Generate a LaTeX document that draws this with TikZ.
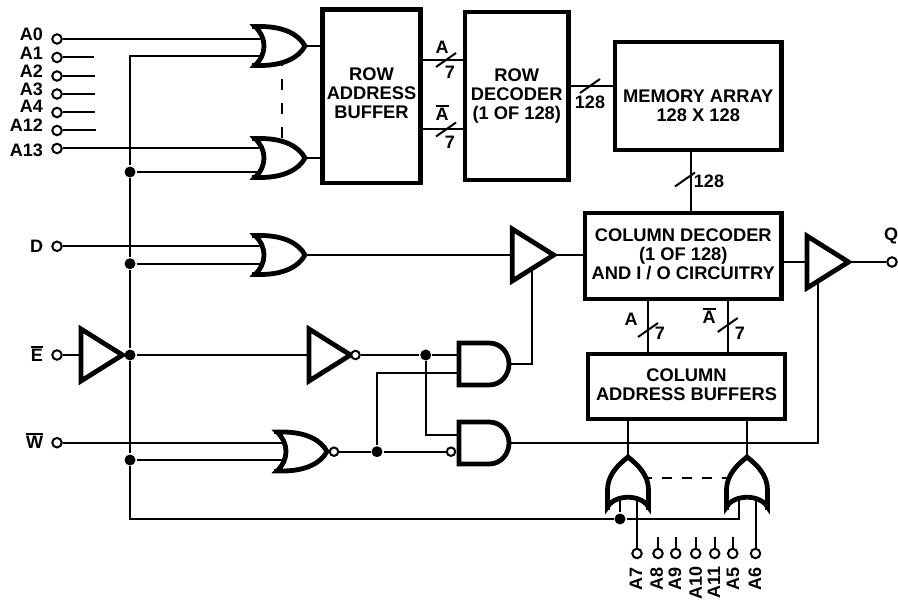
\documentclass[tikz,border=0pt]{standalone}
\usepackage{fontspec}
\usetikzlibrary{backgrounds}
\setmainfont{Liberation Sans}
\newcommand{\barred}[1]{\vbox{\hrule height 1.3pt \kern 1.6pt \hbox{#1}}}
\tikzset{
  blockbox/.style={draw, line width=4.5pt, inner sep=0pt},
  blocktext/.style={align=center, inner sep=0pt, font=\fontsize{18.3}{19}\selectfont\bfseries},
  pinlabel/.style={inner sep=0pt, font=\fontsize{18}{19}\selectfont\bfseries},
  term/.style={circle, draw, fill=white, line width=2pt, minimum size=9.5pt, inner sep=0pt},
  bubble/.style={circle, draw, fill=white, line width=2pt, minimum size=8.5pt, inner sep=0pt},
  joint/.style={circle, fill=black, minimum size=11pt, inner sep=0pt},
  gatelines/.style={draw, fill=white, line width=4.8pt},
  orgate/.pic={
    \path[gatelines] (3,-19.5) -- (8,-19.5) .. controls (33,-19.5) and (47,-11) .. (53,0)
      .. controls (47,11) and (33,19.5) .. (8,19.5) -- (3,19.5)
      .. controls (15,8) and (15,-8) .. (3,-19.5) -- cycle;
    \draw[line width=4.8pt] (0,-19.5) -- (4,-19.5) (0,19.5) -- (4,19.5);
    \coordinate (-back) at (10,0);
    \coordinate (-out) at (53,0);
    \coordinate (-hi) at (30,-17);
    \coordinate (-lo) at (30,17);
  },
  orgateup/.pic={
    \path[gatelines] (3,-20.5) -- (20,-20.5) .. controls (35,-20.5) and (45,-10) .. (53,0)
      .. controls (45,10) and (35,20.5) .. (20,20.5) -- (3,20.5)
      .. controls (16,13) and (16,-13) .. (3,-20.5) -- cycle;
    \draw[line width=4.8pt] (0,-20.5) -- (4,-20.5) (0,20.5) -- (4,20.5);
    \coordinate (-back) at (10,0);
    \coordinate (-out) at (53,0);
    \coordinate (-hi) at (32,-17);
    \coordinate (-lo) at (32,17);
  },
  andgate/.pic={
    \path[gatelines] (0,-21) -- (30,-21) .. controls (42,-21) and (50,-11) .. (50,0)
      .. controls (50,11) and (42,21) .. (30,21) -- (0,21) -- cycle;
    \coordinate (-back) at (0,0);
    \coordinate (-out) at (50,0);
  },
  tribuf/.pic={
    \path[gatelines] (0,-26) -- (41.5,0) -- (0,26) -- cycle;
    \coordinate (-in) at (0,0);
    \coordinate (-mid) at (20,0);
    \coordinate (-out) at (41.5,0);
  },
  buswidth/.pic={
    \draw (-10,7) -- (10,-7);
  }
}
\begin{document}
\begin{tikzpicture}[x=1pt, y=-1pt, line width=2pt]
  \useasboundingbox (0,0) rectangle (898,601);

  % Address pins on the left
  \node[term] (a0) at (57,39) {};
  \node[term] (a1) at (57,57.5) {};
  \node[term] (a2) at (57,76) {};
  \node[term] (a3) at (57,94) {};
  \node[term] (a4) at (57,112.5) {};
  \node[term] (a12) at (57,130.5) {};
  \node[term] (a13) at (57,148.5) {};
  \node[term] (d) at (57,246.3) {};
  \node[term] (e) at (57,355) {};
  \node[term] (w) at (57,442.7) {};
  \node[pinlabel, anchor=east] (a0label) at (44,34) {A0};
  \node[pinlabel, anchor=east] (a1label) at (44,53) {A1};
  \node[pinlabel, anchor=east] (a2label) at (44,71) {A2};
  \node[pinlabel, anchor=east] (a3label) at (44,89) {A3};
  \node[pinlabel, anchor=east] (a4label) at (44,106) {A4};
  \node[pinlabel, anchor=east] (a12label) at (44,125) {A12};
  \node[pinlabel, anchor=east] (a13label) at (44,150) {A13};
  \node[pinlabel, anchor=east] (dlabel) at (44,246) {D};
  \node[pinlabel, anchor=east] (elabel) at (44,354) {\barred{E}};
  \node[pinlabel, anchor=east] (wlabel) at (44,441) {\barred{W}};
  \coordinate (e1) at (94,57.5);
  \coordinate (e2) at (95,76);
  \coordinate (e3) at (95,94);
  \coordinate (e4) at (95,112.5);
  \coordinate (e12) at (96,130.5);
  \draw (a1) -- (e1);
  \draw (a2) -- (e2);
  \draw (a3) -- (e3);
  \draw (a4) -- (e4);
  \draw (a12) -- (e12);

  % Address pins at the bottom
  \node[term] (a7) at (637,553.5) {};
  \node[term] (a8) at (658,553.5) {};
  \node[term] (a9) at (675.7,553.5) {};
  \node[term] (a10) at (695.7,553.5) {};
  \node[term] (a11) at (714.7,553.5) {};
  \node[term] (a5) at (732.7,553.5) {};
  \node[term] (a6) at (755.5,553.5) {};
  \node[pinlabel, rotate=90, anchor=east] (a7label) at (636,566) {A7};
  \node[pinlabel, rotate=90, anchor=east] (a8label) at (656.7,566) {A8};
  \node[pinlabel, rotate=90, anchor=east] (a9label) at (675,566) {A9};
  \node[pinlabel, rotate=90, anchor=east] (a10label) at (695.7,565) {A10};
  \node[pinlabel, rotate=90, anchor=east] (a11label) at (714,565) {A11};
  \node[pinlabel, rotate=90, anchor=east] (a5label) at (733,566) {A5};
  \node[pinlabel, rotate=90, anchor=east] (a6label) at (755,566) {A6};
  \coordinate (e8) at (658,536.7);
  \coordinate (e9) at (675.7,536.7);
  \coordinate (e10) at (695.7,536.7);
  \coordinate (e11) at (714.7,536.7);
  \coordinate (e5) at (732.7,536.7);
  \draw (a8) -- (e8);
  \draw (a9) -- (e9);
  \draw (a10) -- (e10);
  \draw (a11) -- (e11);
  \draw (a5) -- (e5);

  % Blocks
  \node[blockbox, minimum width=98pt, minimum height=173.5pt] (rowbuf) at (371.5,96.25) {};
  \node[blockbox, minimum width=103.5pt, minimum height=168pt] (rowdec) at (516.75,96) {};
  \node[blockbox, minimum width=166.5pt, minimum height=108pt] (mem) at (698.25,96) {};
  \node[blockbox, minimum width=196.5pt, minimum height=86pt] (coldec) at (683.25,256) {};
  \node[blockbox, minimum width=197pt, minimum height=65pt] (colbuf) at (686.5,386.5) {};
  \node[blocktext, yshift=3pt] (rowbuftext) at (rowbuf) {ROW\\ADDRESS\\BUFFER};
  \node[blocktext] (rowdectext) at (rowdec) {ROW\\DECODER\\(1 OF 128)};
  \node[blocktext, yshift=-10pt] (memtext) at (mem) {MEMORY ARRAY\\128 X 128};
  \node[blocktext, yshift=2pt] (coldectext) at (coldec) {COLUMN DECODER\\(1 OF 128)\\AND I / O CIRCUITRY};
  \node[blocktext, yshift=1.5pt] (colbuftext) at (colbuf) {COLUMN\\ADDRESS BUFFERS};

  % Bus lines with their widths
  \coordinate (s1) at (446,60);
  \coordinate (s2) at (446,129.5);
  \coordinate (s3) at (590,86);
  \coordinate (s4) at (690.5,179.5);
  \coordinate (s5) at (648,330);
  \coordinate (s6) at (727.7,325);
  \draw (rowbuf.east |- s1) -- (rowdec.west |- s1);
  \draw (rowbuf.east |- s2) -- (rowdec.west |- s2);
  \draw (rowdec.east |- s3) -- (mem.west |- s3);
  \draw (mem.south -| s4) -- (coldec.north -| s4);
  \draw (coldec.south -| s5) -- (colbuf.north -| s5);
  \draw (coldec.south -| s6) -- (colbuf.north -| s6);
  \pic at (s1) {buswidth};
  \pic at (s2) {buswidth};
  \pic at (s3) {buswidth};
  \pic at (685,179.5) {buswidth};
  \pic at (s5) {buswidth};
  \pic at (s6) {buswidth};
  \node[pinlabel] (abit1) at (442,47) {A};
  \node[pinlabel] (seven1) at (450,72) {7};
  \node[pinlabel] (abit2) at (442,113) {\barred{A}};
  \node[pinlabel] (seven2) at (450,142) {7};
  \node[pinlabel] (bits1) at (590,102) {128};
  \node[pinlabel] (bits2) at (709,181) {128};
  \node[pinlabel] (abit3) at (631,319) {A};
  \node[pinlabel] (seven3) at (660,333) {7};
  \node[pinlabel] (abit4) at (709,316) {\barred{A}};
  \node[pinlabel] (seven4) at (740,333) {7};

  % Junctions and bends
  \coordinate (top) at (130,56.5);
  \node[joint] (j1) at (130,172) {};
  \node[joint] (j2) at (130,263.7) {};
  \node[joint] (j3) at (130,355) {};
  \node[joint] (j4) at (130,460) {};
  \coordinate (low) at (130,519);
  \node[joint] (j5) at (620,519) {};
  \coordinate (lowend) at (738.7,519);
  \node[joint] (j6) at (425.7,355) {};
  \node[joint] (j7) at (377,451.7) {};
  \coordinate (wa1) at (377,373);
  \coordinate (wa2) at (425.7,435);
  \coordinate (en3) at (818,443);

  % Gates
  \pic (or1) at (252,46) {orgate};
  \pic (or2) at (252,158) {orgate};
  \pic (or3) at (252,255) {orgate};
  \pic (or4) at (274,451.5) {orgate};
  \pic[rotate=90] (or5) at (628,510) {orgateup};
  \pic[rotate=90] (or6) at (747,510) {orgateup};
  \pic (and1) at (459,364) {andgate};
  \pic (and2) at (459,443) {andgate};
  \pic (buf1) at (512.25,255) {tribuf};
  \pic (buf2) at (81,355) {tribuf};
  \pic (buf3) at (309,355) {tribuf};
  \pic (buf4) at (807,262) {tribuf};
  \node[bubble] (b1) at (355.5,355) {};
  \node[bubble] (b2) at (334,451.7) {};
  \node[bubble] (b3) at (451,451.7) {};
  \node[term] (q) at (892,262) {};
  \node[pinlabel] (qlabel) at (891,236) {Q};

  % Wires, kept under the gates
  \begin{scope}[on background layer={line width=2pt}]
    \draw (a0) -- (a0 -| or1-back);
    \draw (a13) -- (a13 -| or2-back);
    \draw (d) -- (d -| or3-back);
    \draw (w) -- (w -| or4-back);
    \draw (or1-back |- top) -- (top) -- (j1) -- (j2) -- (j3) -- (j4) -- (low) -- (j5) -- (lowend) -- (lowend |- or6-back);
    \draw (j1) -- (j1 -| or2-back);
    \draw (j2) -- (j2 -| or3-back);
    \draw (j4) -- (j4 -| or4-back);
    \draw (j5) -- (j5 |- or5-back);
    \draw (a7) -- (a7 |- or5-back);
    \draw (a6) -- (a6 |- or6-back);
    \draw (or1-out) -- (or1-out -| rowbuf.west);
    \draw (or2-out) -- (or2-out -| rowbuf.west);
    \draw (or3-out) -- (buf1-in);
    \draw (or5-out) -- (or5-out |- colbuf.south);
    \draw (or6-out) -- (or6-out |- colbuf.south);
    \draw (buf1-out) -- (buf1-out -| coldec.west);
    \draw (e) -- (buf2-in);
    \draw (buf2-out) -- (j3);
    \draw (j3) -- (buf3-in);
    \draw (b1) -- (j6);
    \draw (j6) -- (j6 -| and1-back);
    \draw (b2) -- (j7);
    \draw (j7) -- (b3);
    \draw (j7) -- (wa1) -- (wa1 -| and1-back);
    \draw (j6) -- (wa2) -- (wa2 -| and2-back);
    \draw (and1-out) -| (buf1-mid);
    \draw (and2-out) -- (en3) -- (en3 |- buf4-in);
    \draw (coldec.east |- buf4-in) -- (buf4-in);
    \draw (buf4-out) -- (q);
    \draw[dash pattern=on 11pt off 13pt, dash phase=8pt] (or1-lo) -- (or2-hi);
    \draw[dash pattern=on 10pt off 10pt, dash phase=3.3pt] (or5-lo) -- (or6-hi);
  \end{scope}
\end{tikzpicture}
\end{document}
